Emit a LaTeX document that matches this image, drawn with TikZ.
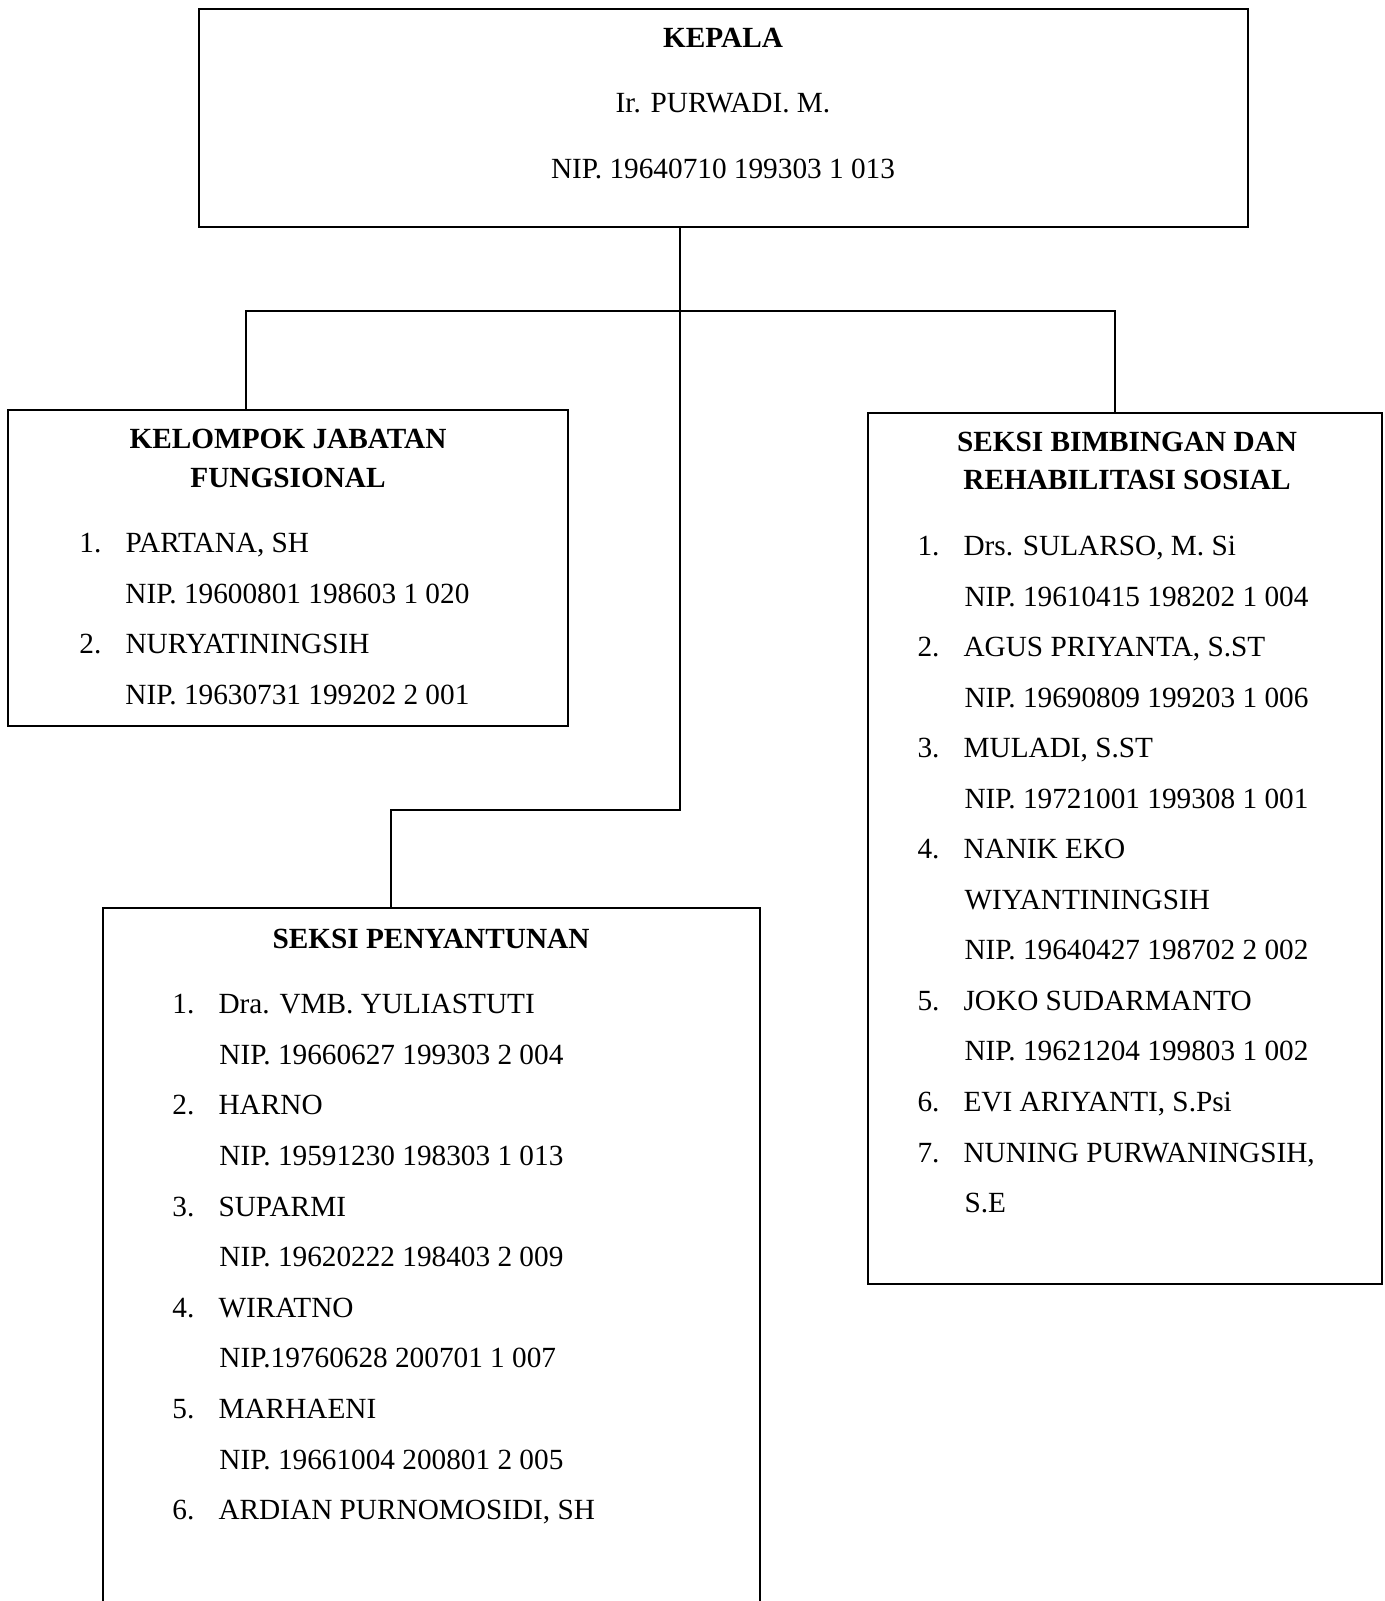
\documentclass[tikz,border=0pt]{standalone}
\usepackage{fontspec}
\setmainfont{Liberation Serif}
\usetikzlibrary{fit}

\newcommand{\ukuran}{\fontsize{12}{14}\selectfont}
\newcommand{\nomor}[1]{\makebox[18.9pt][l]{#1}}% number column of a list item

\begin{document}
\begin{tikzpicture}[x=0.41pt, y=-0.41pt,
    kotak/.style={draw, line width=0.8pt, inner sep=0pt},
    judul/.style={font=\ukuran\bfseries, anchor=base, inner sep=0pt},
    tengah/.style={font=\ukuran, anchor=base, inner sep=0pt},
    baris/.style={font=\ukuran, anchor=base west, inner sep=0pt},
    garis/.style={line width=0.8pt}
]
    \useasboundingbox (0,0) rectangle (1384,1601);
    \clip (0,0) rectangle (1384,1601);

    % Boxes (the bottom one runs past the page edge)
    \node[kotak, fit={(199,9) (1248,227)}]     (kepala)      {};
    \node[kotak, fit={(8,410) (568,726)}]      (fungsional)  {};
    \node[kotak, fit={(868,413) (1382,1284)}]  (bimbingan)   {};
    \node[kotak, fit={(103,908) (760,1640)}]   (penyantunan) {};

    % Kepala
    \node[judul]  (kepalaJudul) at (723,48)  {KEPALA};
    \node[tengah] (kepalaNama)  at (723,113) {Ir. PURWADI. M.};
    \node[tengah] (kepalaNip)   at (723,179) {NIP. 19640710 199303 1 013};

    % Kelompok jabatan fungsional
    \node[judul] (fJudulA) at (288,448) {KELOMPOK JABATAN};
    \node[judul] (fJudulB) at (288,487) {FUNGSIONAL};
    \node[baris] (f1)    at (79,552)  {\nomor{1.}PARTANA, SH};
    \node[baris] (f1nip) at (125,603) {NIP. 19600801 198603 1 020};
    \node[baris] (f2)    at (79,653)  {\nomor{2.}NURYATININGSIH};
    \node[baris] (f2nip) at (125,704) {NIP. 19630731 199202 2 001};

    % Seksi bimbingan dan rehabilitasi sosial
    \node[judul] (bJudulA) at (1127,451) {SEKSI BIMBINGAN DAN};
    \node[judul] (bJudulB) at (1127,489) {REHABILITASI SOSIAL};
    \node[baris] (b1)    at (917,555)  {\nomor{1.}Drs. SULARSO, M. Si};
    \node[baris] (b1nip) at (964,606)  {NIP. 19610415 198202 1 004};
    \node[baris] (b2)    at (917,656)  {\nomor{2.}AGUS PRIYANTA, S.ST};
    \node[baris] (b2nip) at (964,707)  {NIP. 19690809 199203 1 006};
    \node[baris] (b3)    at (917,757)  {\nomor{3.}MULADI, S.ST};
    \node[baris] (b3nip) at (964,808)  {NIP. 19721001 199308 1 001};
    \node[baris] (b4)    at (917,858)  {\nomor{4.}NANIK EKO};
    \node[baris] (b4b)   at (964,909)  {WIYANTININGSIH};
    \node[baris] (b4nip) at (964,959)  {NIP. 19640427 198702 2 002};
    \node[baris] (b5)    at (917,1010) {\nomor{5.}JOKO SUDARMANTO};
    \node[baris] (b5nip) at (964,1060) {NIP. 19621204 199803 1 002};
    \node[baris] (b6)    at (917,1111) {\nomor{6.}EVI ARIYANTI, S.Psi};
    \node[baris] (b7)    at (917,1162) {\nomor{7.}NUNING PURWANINGSIH,};
    \node[baris] (b7b)   at (964,1212) {S.E};

    % Seksi penyantunan
    \node[judul] (pJudul) at (431,948) {SEKSI PENYANTUNAN};
    \node[baris] (p1)    at (172,1013) {\nomor{1.}Dra. VMB. YULIASTUTI};
    \node[baris] (p1nip) at (219,1064) {NIP. 19660627 199303 2 004};
    \node[baris] (p2)    at (172,1114) {\nomor{2.}HARNO};
    \node[baris] (p2nip) at (219,1165) {NIP. 19591230 198303 1 013};
    \node[baris] (p3)    at (172,1216) {\nomor{3.}SUPARMI};
    \node[baris] (p3nip) at (219,1266) {NIP. 19620222 198403 2 009};
    \node[baris] (p4)    at (172,1317) {\nomor{4.}WIRATNO};
    \node[baris] (p4nip) at (219,1367) {NIP.19760628 200701 1 007};
    \node[baris] (p5)    at (172,1418) {\nomor{5.}MARHAENI};
    \node[baris] (p5nip) at (219,1469) {NIP. 19661004 200801 2 005};
    \node[baris] (p6)    at (172,1519) {\nomor{6.}ARDIAN PURNOMOSIDI, SH};

    % Connectors
    \coordinate (cabang) at (680,311);
    \coordinate (kiri)   at (246,311);
    \coordinate (kanan)  at (1115,311);
    \coordinate (belok)  at (680,810);
    \coordinate (turun)  at (391,810);

    \draw[garis] (cabang |- kepala.south) -- (belok) -- (turun)
        -- (turun |- penyantunan.north);
    \draw[garis] (kiri |- fungsional.north) -- (kiri) -- (kanan)
        -- (kanan |- bimbingan.north);

\end{tikzpicture}
\end{document}
